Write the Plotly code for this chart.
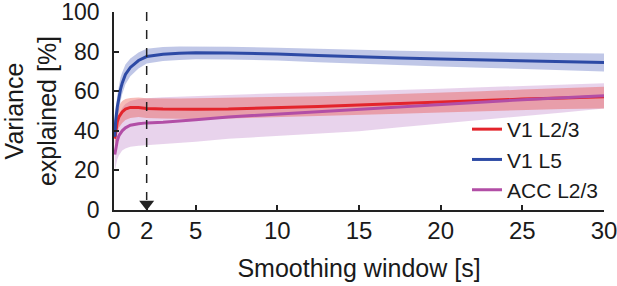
import plotly.graph_objects as go

# smoothing window [s]
x = [0.05, 0.1, 0.2, 0.3, 0.4, 0.5, 0.7, 1.0, 1.5, 2, 3, 4, 5, 7, 10, 12.5, 15, 17.5, 20, 22.5, 25, 27.5, 30]

# V1 L2/3 (red)
red_mean = [36, 40, 44.5, 47, 48.5, 49.5, 51, 51.8, 51.8, 51.3, 51, 50.9, 50.9, 51, 51.6, 52.3, 53, 53.8, 54.6, 55.3, 56, 56.6, 57.2]
red_hi = [40, 45, 50, 52.5, 54, 55, 56, 56.6, 56.8, 56.5, 56.3, 56.3, 56.4, 56.6, 57, 57.5, 58, 58.6, 59.3, 60, 60.8, 61.6, 62.3]
red_lo = [32, 35, 39, 41.5, 43, 44, 45.5, 46.5, 47, 46.5, 46.2, 46, 46, 46.2, 46.8, 47.4, 48, 48.6, 49.3, 49.9, 50.5, 51, 51.3]

# V1 L5 (blue)
blue_mean = [37, 45, 52, 57, 61, 64, 68.5, 72, 75.5, 77.5, 78.7, 79.2, 79.4, 79.3, 78.8, 78, 77.3, 76.8, 76.3, 75.8, 75.3, 74.9, 74.5]
blue_hi = [41, 50, 58, 63, 67, 69.5, 73.5, 76.5, 79.5, 81.5, 82.3, 82.6, 82.6, 82.5, 82, 81.4, 80.8, 80.4, 80, 79.7, 79.4, 79.2, 79]
blue_lo = [33, 40, 46, 51, 55, 58.5, 63.5, 67.5, 71.5, 74, 75.3, 75.8, 76.1, 76, 75.5, 74.6, 73.8, 73.2, 72.5, 71.9, 71.2, 70.6, 70]

# ACC L2/3 (purple)
acc_mean = [28, 31, 35, 37.5, 39, 40, 41.5, 42.8, 43.6, 44, 44.3, 44.8, 45.6, 47, 48.5, 49.7, 50.8, 52, 53.3, 54.5, 55.7, 56.7, 57.7]
acc_hi = [35, 39, 44, 47.5, 50, 51.5, 53.5, 55, 56, 56.5, 57, 57.3, 57.7, 58.3, 59, 59.5, 60, 60.6, 61.3, 62, 62.7, 63.4, 64]
acc_lo = [20, 22.5, 25.5, 27.5, 29, 30, 31, 32, 32.5, 32.8, 33.3, 33.8, 34.5, 36, 37.5, 38.6, 39.8, 41.8, 43.6, 45.5, 47.3, 49.3, 51.3]

x_ticks = [0, 2, 5, 10, 15, 20, 25, 30]
y_ticks = [0, 20, 40, 60, 80, 100]
chosen_window = 2

RED = "#e3242b"
BLUE = "#2d4aa5"
PURPLE = "#b24ea6"

FONT = "Liberation Sans, Arial, sans-serif"
TXT = "#1a1a1a"

fig = go.Figure()

def band(lo, hi, fillcolor):
    fig.add_trace(go.Scatter(x=x, y=lo, mode="lines", line=dict(width=0),
                             showlegend=False, hoverinfo="skip"))
    fig.add_trace(go.Scatter(x=x, y=hi, mode="lines", line=dict(width=0),
                             fill="tonexty", fillcolor=fillcolor,
                             showlegend=False, hoverinfo="skip"))

band(acc_lo, acc_hi, "rgba(190,130,200,0.35)")
band(red_lo, red_hi, "rgba(232,60,50,0.35)")
band(blue_lo, blue_hi, "rgba(60,80,180,0.32)")

fig.add_trace(go.Scatter(x=x, y=red_mean, mode="lines", name="V1 L2/3",
                         line=dict(color=RED, width=3)))
fig.add_trace(go.Scatter(x=x, y=blue_mean, mode="lines", name="V1 L5",
                         line=dict(color=BLUE, width=3)))
fig.add_trace(go.Scatter(x=x, y=acc_mean, mode="lines", name="ACC L2/3",
                         line=dict(color=PURPLE, width=3)))

# dashed marker line at chosen window
fig.add_trace(go.Scatter(x=[chosen_window, chosen_window], y=[100, 5], mode="lines",
                         line=dict(color="#222", width=1.5, dash="dash"),
                         showlegend=False, hoverinfo="skip", cliponaxis=False))
fig.add_trace(go.Scatter(x=[chosen_window], y=[3], mode="markers",
                         marker=dict(symbol="triangle-down", size=13, color="#222"),
                         showlegend=False, hoverinfo="skip", cliponaxis=False))

fig.update_layout(
    width=617, height=286, autosize=False,
    margin=dict(l=114, r=13, t=12, b=76),
    plot_bgcolor="white", paper_bgcolor="white",
    font=dict(family=FONT, size=24, color=TXT),
    legend=dict(x=1.0, y=0.0, xanchor="right", yanchor="bottom",
                bgcolor="rgba(0,0,0,0)", font=dict(size=21),
                itemwidth=30, tracegroupgap=0, traceorder="normal"),
    showlegend=True,
)
fig.update_xaxes(
    range=[0, 30], tickvals=x_ticks, ticktext=[str(v) for v in x_ticks],
    showline=True, linecolor="#222", linewidth=1.5, mirror=False,
    ticks="inside", ticklen=5, tickwidth=1.5, tickcolor="#222",
    showgrid=False, zeroline=False, automargin=False,
    title=dict(text="Smoothing window [s]", standoff=17, font=dict(size=25)),
    tickfont=dict(size=24), ticklabelstandoff=-2, ticklabeloverflow="allow",
)
fig.update_yaxes(
    range=[0, 100], tickvals=y_ticks,
    showline=True, linecolor="#222", linewidth=1.5,
    ticks="inside", ticklen=5, tickwidth=1.5, tickcolor="#222",
    showgrid=False, zeroline=False, automargin=False,
    title=dict(text="Variance<br>explained [%]", standoff=5, font=dict(size=25)),
    tickfont=dict(size=23), ticklabelstandoff=8, ticklabeloverflow="allow",
)

fig.write_html("out.html", config={"displayModeBar": False},
               post_script="document.body.style.margin='0';document.body.style.overflow='hidden';")
